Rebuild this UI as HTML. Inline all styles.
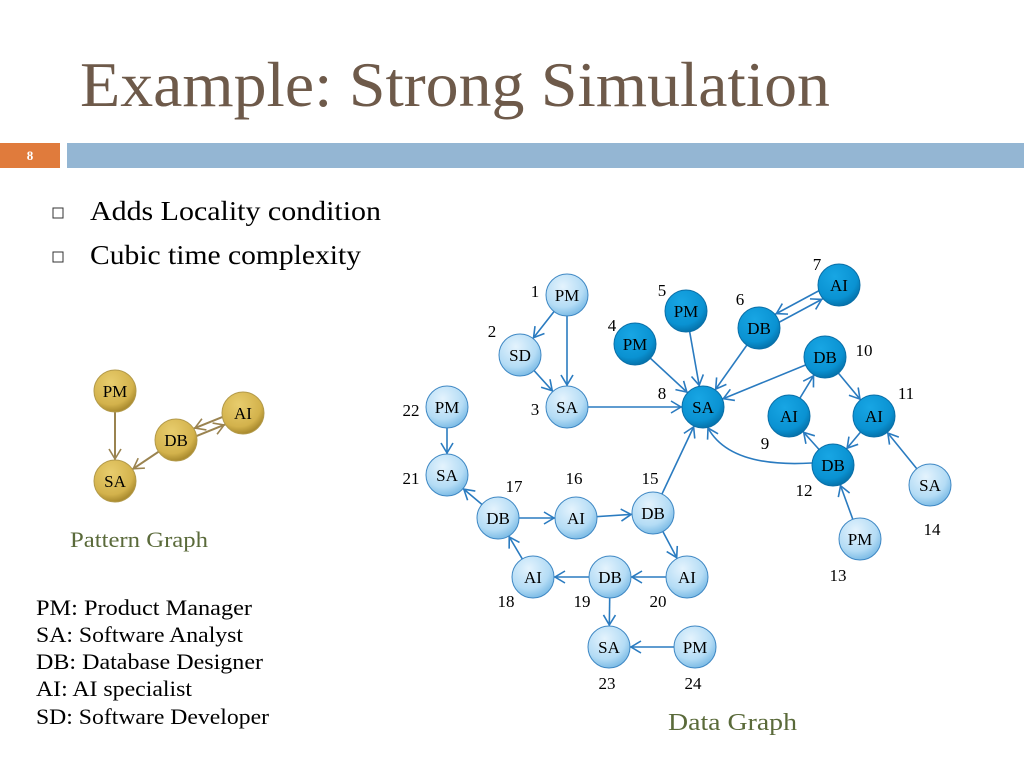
<!DOCTYPE html>
<html><head><meta charset="utf-8"><style>
html,body{margin:0;padding:0;background:#fff;}
svg{display:block;}
text{font-family:"Liberation Serif",serif;}
</style></head><body>
<svg width="1024" height="768" viewBox="0 0 1024 768" xmlns="http://www.w3.org/2000/svg">
<defs>
<radialGradient id="lg" cx="40%" cy="30%" r="70%"><stop offset="0" stop-color="#e4f3fd"/><stop offset="0.7" stop-color="#b4dcf5"/><stop offset="1" stop-color="#7fbde6"/></radialGradient>
<radialGradient id="dg" cx="40%" cy="30%" r="70%"><stop offset="0" stop-color="#18a6e4"/><stop offset="0.75" stop-color="#0a92d2"/><stop offset="1" stop-color="#0574ad"/></radialGradient>
<radialGradient id="gg" cx="40%" cy="30%" r="70%"><stop offset="0" stop-color="#e8cd6e"/><stop offset="0.75" stop-color="#d3b24c"/><stop offset="1" stop-color="#a98a2e"/></radialGradient>
<marker id="a" viewBox="-40 -10 40 20" refX="0" refY="0" markerWidth="40" markerHeight="20" markerUnits="userSpaceOnUse" orient="auto" overflow="visible"><path d="M-32,-6 L-22,0 L-32,6" fill="none" stroke="#2a7bc0" stroke-width="1.6"/></marker>
<marker id="a0" viewBox="-20 -10 20 20" refX="0" refY="0" markerWidth="20" markerHeight="20" markerUnits="userSpaceOnUse" orient="auto" overflow="visible"><path d="M-10,-6 L0,0 L-10,6" fill="none" stroke="#2a7bc0" stroke-width="1.6"/></marker>
<marker id="g" viewBox="-40 -10 40 20" refX="0" refY="0" markerWidth="40" markerHeight="20" markerUnits="userSpaceOnUse" orient="auto" overflow="visible"><path d="M-32,-6 L-22,0 L-32,6" fill="none" stroke="#9a8350" stroke-width="1.6"/></marker>
</defs>

<text x="80" y="106" font-size="63" fill="#6e5a4a" textLength="750" lengthAdjust="spacingAndGlyphs">Example: Strong Simulation</text>
<rect x="0" y="143" width="60" height="25" fill="#e07b3c"/>
<text x="30" y="160" font-size="13" fill="#fff" text-anchor="middle" font-weight="bold">8</text>
<rect x="67" y="143" width="957" height="25" fill="#94b6d3"/>

<rect x="53" y="208" width="10" height="10" fill="none" stroke="#333" stroke-width="1"/>
<text x="90" y="220" font-size="27" fill="#000" textLength="291" lengthAdjust="spacingAndGlyphs">Adds Locality condition</text>
<rect x="53" y="252" width="10" height="10" fill="none" stroke="#333" stroke-width="1"/>
<text x="90" y="264" font-size="27" fill="#000" textLength="271" lengthAdjust="spacingAndGlyphs">Cubic time complexity</text>

<g font-size="22" fill="#000">
<text x="36" y="615" textLength="216" lengthAdjust="spacingAndGlyphs">PM: Product Manager</text>
<text x="36" y="642" textLength="207" lengthAdjust="spacingAndGlyphs">SA: Software Analyst</text>
<text x="36" y="669" textLength="227" lengthAdjust="spacingAndGlyphs">DB: Database Designer</text>
<text x="36" y="696" textLength="156" lengthAdjust="spacingAndGlyphs">AI: AI specialist</text>
<text x="36" y="724" textLength="233" lengthAdjust="spacingAndGlyphs">SD: Software Developer</text>
</g>
<text x="70" y="547" font-size="22" fill="#5a6a3a" textLength="138" lengthAdjust="spacingAndGlyphs">Pattern Graph</text>
<text x="668" y="730" font-size="24" fill="#5a6a3a" textLength="129" lengthAdjust="spacingAndGlyphs">Data Graph</text>

<g stroke="#9a8350" stroke-width="2" fill="none">
<line x1="115" y1="391" x2="115" y2="481" marker-end="url(#g)"/>
<line x1="176" y1="440" x2="115" y2="481" marker-end="url(#g)"/>
<line x1="177.5" y1="443.7" x2="244.5" y2="416.7" marker-end="url(#g)"/>
<line x1="241.5" y1="409.3" x2="174.5" y2="436.3" marker-end="url(#g)"/>
</g>
<g stroke="#b39a4a" stroke-width="1" fill="url(#gg)">
<circle cx="115" cy="391" r="21"/><circle cx="115" cy="481" r="21"/><circle cx="176" cy="440" r="21"/><circle cx="243" cy="413" r="21"/>
</g>
<g font-size="17" text-anchor="middle" fill="#000">
<text x="115" y="397">PM</text><text x="115" y="487">SA</text><text x="176" y="446">DB</text><text x="243" y="419">AI</text>
</g>

<g stroke="#2a7bc0" stroke-width="1.6" fill="none">
<line x1="567" y1="295" x2="520" y2="355" marker-end="url(#a)"/>
<line x1="567" y1="295" x2="567" y2="407" marker-end="url(#a)"/>
<line x1="520" y1="355" x2="567" y2="407" marker-end="url(#a)"/>
<line x1="567" y1="407" x2="703" y2="407" marker-end="url(#a)"/>
<line x1="635" y1="344" x2="703" y2="407" marker-end="url(#a)"/>
<line x1="686" y1="311" x2="703" y2="407" marker-end="url(#a)"/>
<line x1="759" y1="328" x2="703" y2="407" marker-end="url(#a)"/>
<line x1="761" y1="332" x2="841" y2="289" marker-end="url(#a)"/>
<line x1="837" y1="281" x2="757" y2="324" marker-end="url(#a)"/>
<line x1="825" y1="357" x2="703" y2="407" marker-end="url(#a)"/>
<line x1="789" y1="416" x2="825" y2="357" marker-end="url(#a)"/>
<line x1="825" y1="357" x2="874" y2="416" marker-end="url(#a)"/>
<line x1="874" y1="416" x2="833" y2="465" marker-end="url(#a)"/>
<line x1="833" y1="465" x2="789" y2="416" marker-end="url(#a)"/>
<path d="M812,463 Q730,468 708,428" marker-end="url(#a0)"/>
<line x1="860" y1="539" x2="833" y2="465" marker-end="url(#a)"/>
<line x1="930" y1="485" x2="874" y2="416" marker-end="url(#a)"/>
<line x1="653" y1="513" x2="703" y2="407" marker-end="url(#a)"/>
<line x1="653" y1="513" x2="687" y2="577" marker-end="url(#a)"/>
<line x1="687" y1="577" x2="610" y2="577" marker-end="url(#a)"/>
<line x1="610" y1="577" x2="533" y2="577" marker-end="url(#a)"/>
<line x1="610" y1="577" x2="609" y2="647" marker-end="url(#a)"/>
<line x1="695" y1="647" x2="609" y2="647" marker-end="url(#a)"/>
<line x1="533" y1="577" x2="498" y2="518" marker-end="url(#a)"/>
<line x1="498" y1="518" x2="576" y2="518" marker-end="url(#a)"/>
<line x1="576" y1="518" x2="653" y2="513" marker-end="url(#a)"/>
<line x1="498" y1="518" x2="447" y2="475" marker-end="url(#a)"/>
<line x1="447" y1="407" x2="447" y2="475" marker-end="url(#a)"/>
</g>
<g stroke="#3f88c4" stroke-width="1" fill="url(#lg)">
<circle cx="567" cy="295" r="21"/><circle cx="520" cy="355" r="21"/><circle cx="567" cy="407" r="21"/>
<circle cx="860" cy="539" r="21"/><circle cx="930" cy="485" r="21"/>
<circle cx="653" cy="513" r="21"/><circle cx="576" cy="518" r="21"/><circle cx="498" cy="518" r="21"/>
<circle cx="533" cy="577" r="21"/><circle cx="610" cy="577" r="21"/><circle cx="687" cy="577" r="21"/>
<circle cx="447" cy="475" r="21"/><circle cx="447" cy="407" r="21"/>
<circle cx="609" cy="647" r="21"/><circle cx="695" cy="647" r="21"/>
</g>
<g stroke="#0a6fa8" stroke-width="1" fill="url(#dg)">
<circle cx="635" cy="344" r="21"/><circle cx="686" cy="311" r="21"/><circle cx="759" cy="328" r="21"/>
<circle cx="839" cy="285" r="21"/><circle cx="703" cy="407" r="21"/><circle cx="789" cy="416" r="21"/>
<circle cx="825" cy="357" r="21"/><circle cx="874" cy="416" r="21"/><circle cx="833" cy="465" r="21"/>
</g>
<g font-size="17" text-anchor="middle" fill="#000">
<text x="567" y="301">PM</text><text x="520" y="361">SD</text><text x="567" y="413">SA</text>
<text x="635" y="350">PM</text><text x="686" y="317">PM</text><text x="759" y="334">DB</text>
<text x="839" y="291">AI</text><text x="703" y="413">SA</text><text x="789" y="422">AI</text>
<text x="825" y="363">DB</text><text x="874" y="422">AI</text><text x="833" y="471">DB</text>
<text x="860" y="545">PM</text><text x="930" y="491">SA</text>
<text x="653" y="519">DB</text><text x="576" y="524">AI</text><text x="498" y="524">DB</text>
<text x="533" y="583">AI</text><text x="610" y="583">DB</text><text x="687" y="583">AI</text>
<text x="447" y="481">SA</text><text x="447" y="413">PM</text>
<text x="609" y="653">SA</text><text x="695" y="653">PM</text>
</g>
<g font-size="17" fill="#000" text-anchor="middle">
<text x="535" y="297">1</text><text x="492" y="337">2</text><text x="535" y="415">3</text>
<text x="612" y="331">4</text><text x="662" y="296">5</text><text x="740" y="305">6</text>
<text x="817" y="270">7</text><text x="662" y="399">8</text><text x="765" y="449">9</text>
<text x="864" y="356">10</text><text x="906" y="399">11</text><text x="804" y="496">12</text>
<text x="838" y="581">13</text><text x="932" y="535">14</text><text x="650" y="484">15</text>
<text x="574" y="484">16</text><text x="514" y="492">17</text><text x="506" y="607">18</text>
<text x="582" y="607">19</text><text x="658" y="607">20</text><text x="411" y="484">21</text>
<text x="411" y="416">22</text><text x="607" y="689">23</text><text x="693" y="689">24</text>
</g>
</svg>
</body></html>
